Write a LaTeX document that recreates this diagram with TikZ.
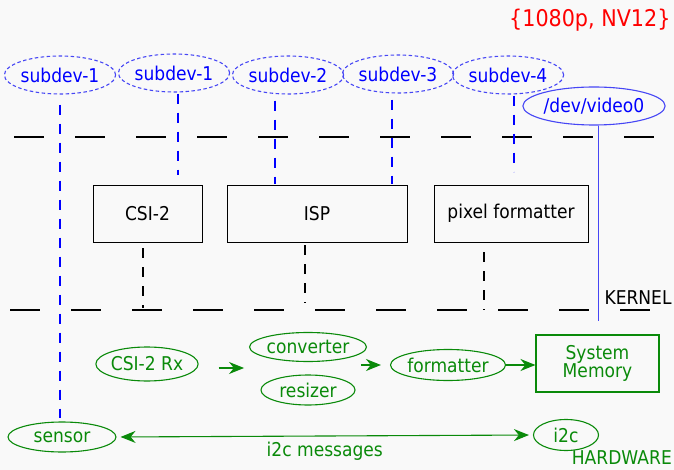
\documentclass[tikz,border=0pt]{standalone}
\usepackage{fontspec}
\setmainfont{DejaVu Sans}[FakeStretch=0.9]
\usetikzlibrary{arrows.meta,shapes.geometric,positioning}

\definecolor{bggray}{RGB}{249,249,249}
\definecolor{devblue}{RGB}{70,70,245}
\definecolor{hwgreen}{RGB}{10,138,10}

\tikzset{
  subdev/.style={ellipse, draw=devblue, line width=1.1pt, dash pattern=on 3.5pt off 2.5pt,
    text=blue, minimum width=96pt, minimum height=38pt, inner sep=0pt},
  devnode/.style={ellipse, draw=devblue, line width=1.1pt, text=blue,
    minimum width=126pt, minimum height=38pt, inner sep=0pt},
  block/.style={rectangle, draw, line width=0.9pt, minimum height=57pt},
  hwnode/.style={ellipse, draw=hwgreen, line width=1.1pt, text=hwgreen, inner sep=0pt},
  devlink/.style={blue, line width=1.3pt, dash pattern=on 10pt off 9pt},
  blocklink/.style={black, line width=1.3pt, dash pattern=on 10pt off 9pt},
  layerline/.style={black, line width=2.6pt, dash pattern=on 30pt off 31pt},
  flow/.style={->, hwgreen, line width=1.1pt},
}

\begin{document}
\begin{tikzpicture}[x=1pt, y=-1pt, >={Stealth[length=15pt, width=12pt]},
    every node/.style={font=\fontsize{19}{19}\selectfont}]
  \fill[bggray] (0,0) rectangle (674,470);
  \useasboundingbox (0,0) rectangle (674,470);

  % user space: sub-devices and video node
  \node[red, anchor=east, font=\fontsize{23}{23}\selectfont] (fmt) at (674,20) {\{1080p, NV12\}};
  \node[subdev] (sensordev) at (60,75) {subdev-1};
  \node[subdev] (csidev) at (174,73) {subdev-1};
  \node[subdev] (ispdev) at (288,75) {subdev-2};
  \node[subdev] (ispdevb) at (398,74) {subdev-3};
  \node[subdev] (pixdev) at (508,75) {subdev-4};
  \node[devnode] (video) at (594,106) {/dev/video0};

  % layer separators
  \coordinate (userl) at (14,137);
  \coordinate (userr) at (660,137);
  \coordinate (kernl) at (10,310);
  \coordinate (kernr) at (656,310);
  \draw[layerline] (userl) -- (userr);
  \draw[layerline] (kernl) -- (kernr);
  \node[anchor=west] (kernel) at (601,298) {KERNEL};

  % kernel drivers
  \node[block, minimum width=109pt] (csi) at (147.5,213.5) {CSI-2};
  \node[block, minimum width=180pt] (isp) at (317,213.5) {ISP};
  \node[block, minimum width=154pt] (pixfmt) at (511,213.5) {pixel formatter};

  % hardware
  \node[hwnode, minimum width=94pt, minimum height=34pt] (rx) at (147,364) {CSI-2 Rx};
  \node[hwnode, minimum width=95pt, minimum height=29pt] (conv) at (308,347) {converter};
  \node[hwnode, minimum width=94pt, minimum height=30pt] (resize) at (308,390) {resizer};
  \node[hwnode, minimum width=95pt, minimum height=31pt] (hwfmt) at (448,365) {formatter};
  \node[rectangle, draw=hwgreen, line width=1.1pt, text=hwgreen, align=center,
    minimum width=123pt, minimum height=57pt, inner sep=0pt] (sysmem) at (597.5,363.5)
    {System\\[-1pt]Memory};
  \node[hwnode, minimum width=108pt, minimum height=30pt] (sensor) at (62,437) {sensor};
  \node[hwnode, minimum width=65pt, minimum height=31pt] (i2c) at (566,435) {i2c};
  \node[hwgreen, anchor=east, inner sep=1pt] (hw) at (673,458) {HARDWARE};

  % sub-device links
  \draw[devlink, shorten <=10pt, shorten >=3pt] (sensordev) -- (sensordev |- sensor.north);
  \draw[devlink, shorten <=1pt, shorten >=10pt] ([xshift=4pt]csidev.south) -- ([xshift=4pt]csidev.south |- csi.north);
  \draw[devlink, shorten <=6pt, shorten >=1pt] ([xshift=-13pt]ispdev.south) -- ([xshift=-13pt]ispdev.south |- isp.north);
  \draw[devlink, shorten <=6pt, shorten >=1pt] ([xshift=-6pt]ispdevb.south) -- ([xshift=-6pt]ispdevb.south |- isp.north);
  \draw[devlink, shorten <=1pt, shorten >=13pt] ([xshift=6pt]pixdev.south) -- ([xshift=6pt]pixdev.south |- pixfmt.north);
  \draw[devblue, line width=1pt, shorten >=13pt] ([xshift=4pt]video.south) -- ([xshift=4pt]video.south |- sysmem.north);

  % driver to hardware
  \draw[blocklink, shorten <=6pt, shorten >=2pt] ([xshift=-4.5pt]csi.south) -- ([xshift=-4.5pt]csi.south |- kernl);
  \draw[blocklink, shorten <=3pt, shorten >=7pt] ([xshift=-12pt]isp.south) -- ([xshift=-12pt]isp.south |- kernl);
  \draw[blocklink, shorten <=10pt] ([xshift=-27pt]pixfmt.south) -- ([xshift=-27pt]pixfmt.south |- kernl);

  % data flow
  \draw[flow, shorten <=20pt, shorten >=5pt] ([yshift=-4pt]rx.east) -- ([yshift=-4pt]rx.east -| conv.west);
  \draw[flow, shorten <=-6pt, shorten >=9pt] (conv.east |- hwfmt.west) -- (hwfmt.west);
  \draw[flow] (hwfmt.east) -- (hwfmt.east -| sysmem.west);
  \draw[<->, hwgreen, line width=1.1pt, shorten <=4pt, shorten >=4pt] (sensor.east) -- (i2c.west)
    node[midway, below=2pt] (msg) {i2c messages};
\end{tikzpicture}
\end{document}
